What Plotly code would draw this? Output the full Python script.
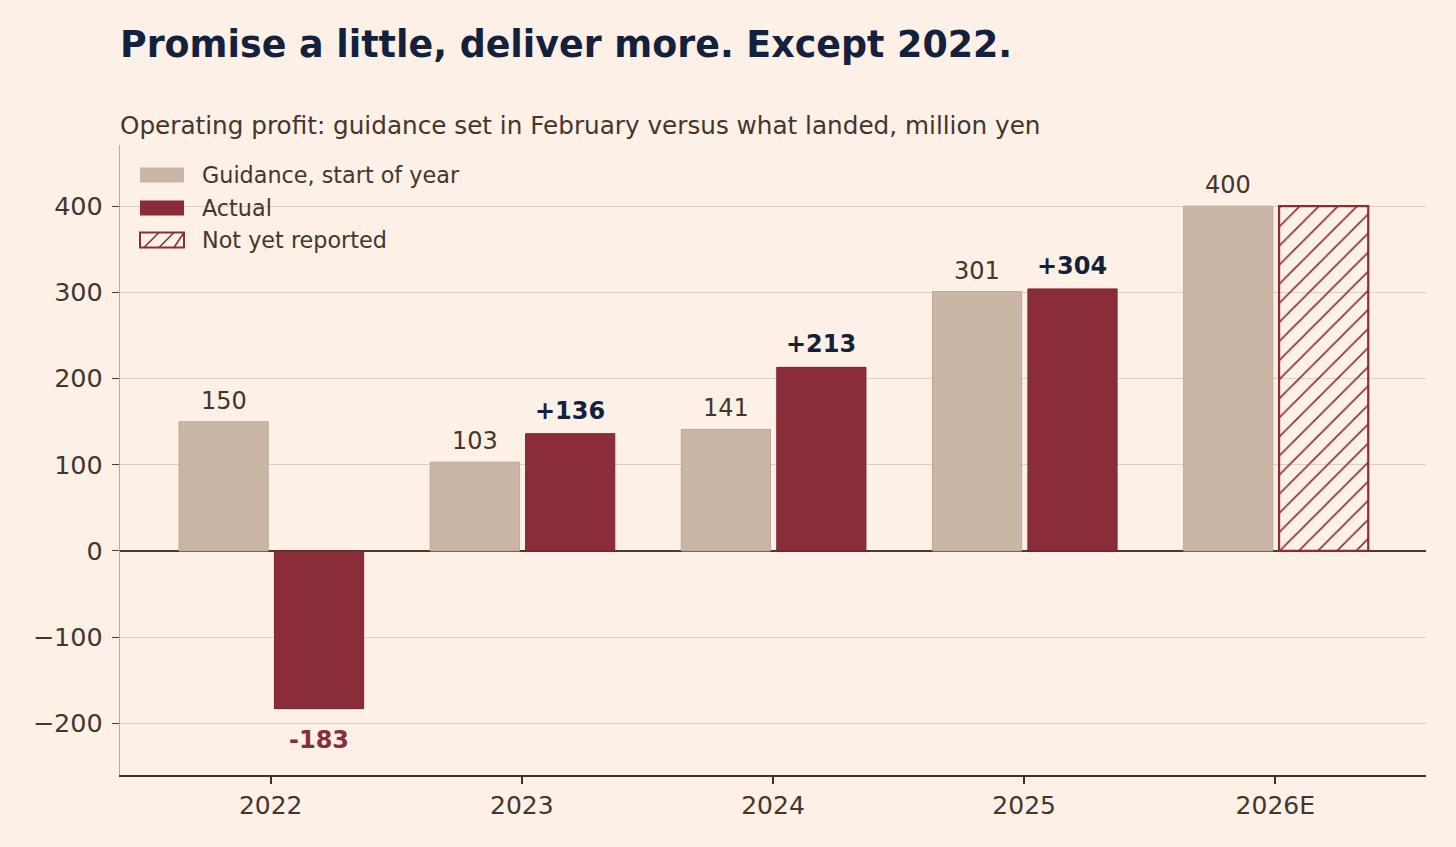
import plotly.graph_objects as go

# data
years = ["2022", "2023", "2024", "2025", "2026E"]
guidance = [150, 103, 141, 301, 400]
actual = [-183, 136, 213, 304, None]
estimate = [None, None, None, None, 400]

y_ticks = [-200, -100, 0, 100, 200, 300, 400]
y_ticktext = ["\u2212200", "\u2212100", "0", "100", "200", "300", "400"]

# colours
BG = "#fdf0e6"
SAND = "#c9b6a4"
WINE = "#8b2d38"
NAVY = "#14213d"
INK = "#43372c"
GRID = "#ddd0c3"
CLEAR = "rgba(0,0,0,0)"

W, H = 1456, 847
M = dict(l=120, r=30, t=145, b=72)
PW = W - M["l"] - M["r"]
PH = H - M["t"] - M["b"]
X_RANGE = [-0.6, 4.6]
px_per_cat = PW / (X_RANGE[1] - X_RANGE[0])

BAR_W = 0.355
OFF_L = -0.365
OFF_R = 0.015

fig = go.Figure()

fig.add_trace(go.Bar(x=years, y=guidance, name="Guidance, start of year",
                     offset=OFF_L, width=BAR_W,
                     marker=dict(color=SAND, line=dict(color="#bba893", width=1)),
                     showlegend=False, hoverinfo="x+y"))
fig.add_trace(go.Bar(x=years, y=actual, name="Actual",
                     offset=OFF_R, width=BAR_W,
                     marker=dict(color=WINE, line=dict(color="#7a2230", width=1)),
                     showlegend=False, hoverinfo="x+y"))
# hatched, unfilled bar for the estimate
fig.add_trace(go.Bar(x=years, y=estimate, name="Not yet reported",
                     offset=OFF_R, width=BAR_W,
                     marker=dict(color=CLEAR, line=dict(color=WINE, width=2.2),
                                 pattern=dict(shape="/", fgcolor=WINE, fgopacity=1,
                                              bgcolor=CLEAR, fillmode="replace",
                                              size=13.5, solidity=0.12)),
                     showlegend=False, hoverinfo="x+y"))

# value labels (x given as category index so "2022" isn't read as a number)
shift_l = (OFF_L + BAR_W / 2) * px_per_cat
shift_r = (OFF_R + BAR_W / 2) * px_per_cat
annotations = []
for i, g in enumerate(guidance):
    annotations.append(dict(x=i, y=g, xref="x", yref="y", text=str(g),
                            showarrow=False, xshift=shift_l, yshift=5,
                            yanchor="bottom",
                            font=dict(size=24, color=INK)))
for i, a in enumerate(actual):
    if a is None:
        continue
    if a >= 0:
        annotations.append(dict(x=i, y=a, xref="x", yref="y", text=f"<b>{a:+d}</b>",
                                showarrow=False, xshift=shift_r, yshift=7,
                                yanchor="bottom",
                                font=dict(size=24, color=NAVY)))
    else:
        annotations.append(dict(x=i, y=a, xref="x", yref="y", text=f"<b>{a:+d}</b>",
                                showarrow=False, xshift=shift_r, yshift=-15,
                                yanchor="top",
                                font=dict(size=24, color=WINE)))

# subtitle
annotations.append(dict(x=0, y=1 + 20 / PH, xref="paper", yref="paper",
                        xanchor="left", yanchor="middle", showarrow=False, xshift=-2,
                        text="Operating profit: guidance set in February versus what landed, million yen",
                        font=dict(size=24.7, color=INK)))


# hand-made legend (wide swatches like the original)
def px_x(p):
    return (p - M["l"]) / PW


def px_y(p):
    return 1 - (p - M["t"]) / PH


legend_items = ["Guidance, start of year", "Actual", "Not yet reported"]
legend_rows = [175, 208, 240]
shapes = []
for i, (label, yc) in enumerate(zip(legend_items, legend_rows)):
    x0, x1 = 140, 184
    y0, y1 = yc - 7.5, yc + 7.5
    if i == 0:
        shapes.append(dict(type="rect", xref="paper", yref="paper",
                           x0=px_x(x0), x1=px_x(x1), y0=px_y(y1), y1=px_y(y0),
                           fillcolor=SAND, line=dict(width=0)))
    elif i == 1:
        shapes.append(dict(type="rect", xref="paper", yref="paper",
                           x0=px_x(x0), x1=px_x(x1), y0=px_y(y1), y1=px_y(y0),
                           fillcolor=WINE, line=dict(width=0)))
    else:
        for k in range(3):
            lx = x0 + 4 + k * 15
            shapes.append(dict(type="line", xref="paper", yref="paper",
                               x0=px_x(lx), y0=px_y(y1),
                               x1=px_x(min(lx + 15, x1)), y1=px_y(y0),
                               line=dict(color=WINE, width=1.6)))
        shapes.append(dict(type="rect", xref="paper", yref="paper",
                           x0=px_x(x0), x1=px_x(x1), y0=px_y(y1), y1=px_y(y0),
                           fillcolor=CLEAR, line=dict(color=WINE, width=2)))
    annotations.append(dict(x=px_x(200), y=px_y(yc), xref="paper", yref="paper",
                            xanchor="left", yanchor="middle", showarrow=False,
                            text=label, font=dict(size=22.3, color=INK)))

fig.update_layout(
    width=W, height=H,
    margin=M,
    paper_bgcolor=BG, plot_bgcolor=BG,
    font=dict(family="DejaVu Sans", color=INK),
    barmode="overlay",
    title=dict(text="<b>Promise a little, deliver more. Except 2022.</b>",
               x=M["l"] / W, xanchor="left", xref="container",
               y=1 - 44 / H, yanchor="middle", yref="container",
               font=dict(size=36.4, color=NAVY)),
    annotations=annotations,
    shapes=shapes,
    showlegend=False,
)

fig.update_xaxes(
    type="category", range=X_RANGE,
    showgrid=False, zeroline=False,
    showline=True, linecolor="#3d3028", linewidth=2,
    ticks="outside", ticklen=7, tickwidth=1.5, tickcolor="#3d3028",
    tickfont=dict(size=25, color=INK),
    fixedrange=True,
)
fig.update_yaxes(
    range=[-260, 471],
    tickvals=y_ticks, ticktext=y_ticktext,
    showgrid=True, gridcolor=GRID, gridwidth=1,
    zeroline=True, zerolinecolor="#4a3b2e", zerolinewidth=2,
    showline=True, linecolor="#b9ab9c", linewidth=1.2,
    ticks="outside", ticklen=7, tickwidth=1.2, tickcolor="#4a3b2e",
    ticklabelstandoff=4,
    tickfont=dict(size=25.5, color=INK),
    fixedrange=True,
)

fig.write_html("out.html", config={"displayModeBar": False},
               post_script="document.body.style.margin='0px';")
